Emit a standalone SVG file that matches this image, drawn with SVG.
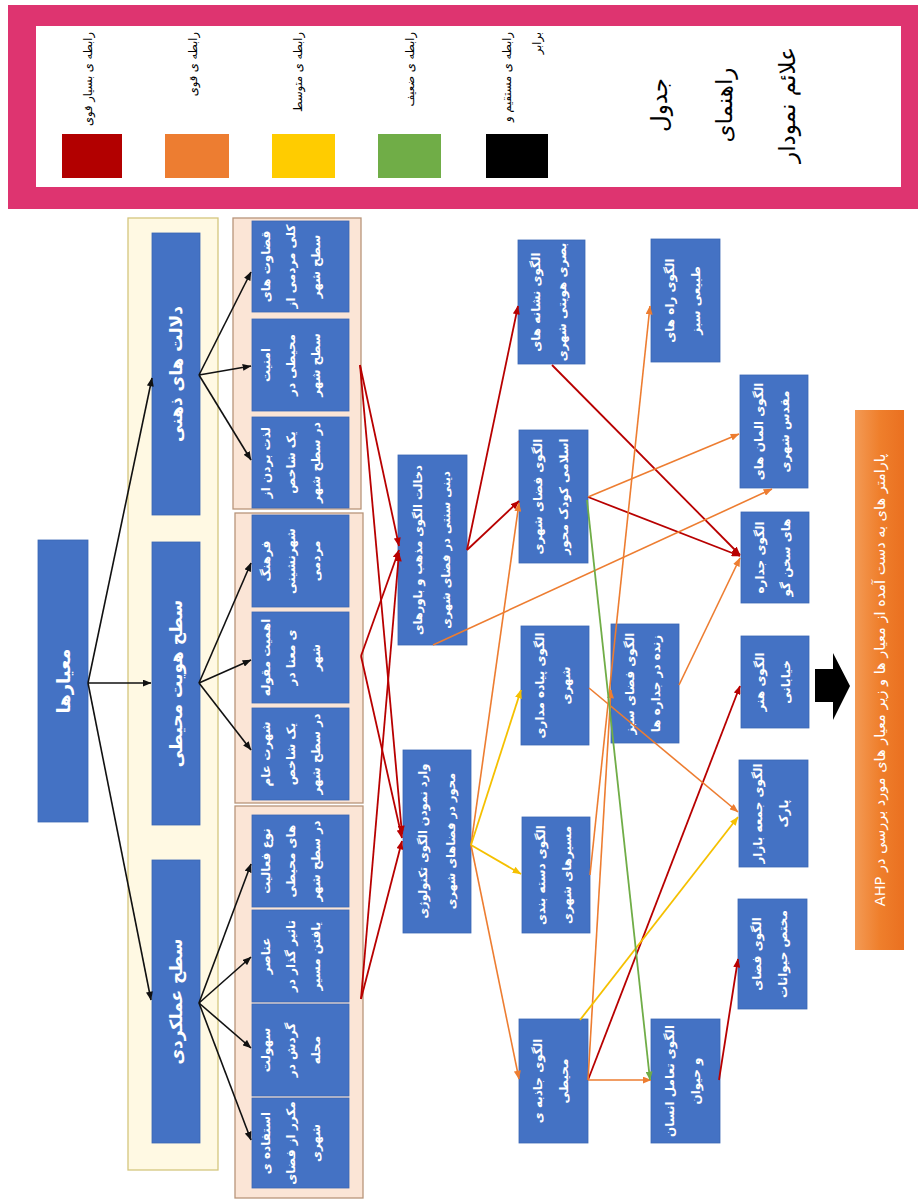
<svg xmlns="http://www.w3.org/2000/svg" width="923" height="1200" viewBox="0 0 923 1200">
<style>
.box{fill:#4472C4;stroke:#3B66B5;stroke-width:0.8}
.panel{fill:#FBE5D6;stroke:#B8957A;stroke-width:1.3}
.cream{fill:#FFF9E3;stroke:#D4C67E;stroke-width:1.3}
.t{font-family:"DejaVu Sans",sans-serif;fill:#fff;font-weight:bold;text-anchor:middle;dominant-baseline:central}
.lg{font-family:"DejaVu Sans",sans-serif;fill:#000;font-size:11.5px;text-anchor:end;dominant-baseline:central}
.ttl{font-family:"DejaVu Sans",sans-serif;fill:#000;font-size:23px;text-anchor:middle;dominant-baseline:central}
.s11{font-size:11.5px}
.s12{font-size:12px}
.s17{font-size:17px}
.s18{font-size:18px}
.bar{font-family:"DejaVu Sans",sans-serif;fill:#fff;font-size:14.5px;text-anchor:middle;dominant-baseline:central;direction:rtl;unicode-bidi:embed}
.ln{fill:none}
.k{stroke:#111;stroke-width:1.6}
.r{stroke:#B80000;stroke-width:1.8}
.o{stroke:#ED7D31;stroke-width:1.6}
.y{stroke:#F5C000;stroke-width:1.8}
.g{stroke:#70AD47;stroke-width:1.8}
</style>
<defs>
<marker id="mk" viewBox="0 0 10 8" refX="9.5" refY="4" markerWidth="9" markerHeight="7" markerUnits="userSpaceOnUse" orient="auto"><path d="M0,0 L10,4 L0,8 z" fill="#111"/></marker>
<marker id="mr" viewBox="0 0 10 8" refX="9.5" refY="4" markerWidth="9" markerHeight="7" markerUnits="userSpaceOnUse" orient="auto"><path d="M0,0 L10,4 L0,8 z" fill="#B80000"/></marker>
<marker id="mo" viewBox="0 0 10 8" refX="9.5" refY="4" markerWidth="9" markerHeight="7" markerUnits="userSpaceOnUse" orient="auto"><path d="M0,0 L10,4 L0,8 z" fill="#ED7D31"/></marker>
<marker id="my" viewBox="0 0 10 8" refX="9.5" refY="4" markerWidth="9" markerHeight="7" markerUnits="userSpaceOnUse" orient="auto"><path d="M0,0 L10,4 L0,8 z" fill="#F5C000"/></marker>
<marker id="mg" viewBox="0 0 10 8" refX="9.5" refY="4" markerWidth="9" markerHeight="7" markerUnits="userSpaceOnUse" orient="auto"><path d="M0,0 L10,4 L0,8 z" fill="#70AD47"/></marker>
<linearGradient id="og" x1="0" y1="0" x2="1" y2="0"><stop offset="0" stop-color="#F39A55"/><stop offset="0.5" stop-color="#EF7F2C"/><stop offset="1" stop-color="#EA7020"/></linearGradient>
</defs>
<rect x="0" y="0" width="923" height="1200" fill="#fff"/>

<g id="legend">
<rect x="8" y="5" width="910" height="204" fill="#DE3470"/>
<rect x="36" y="26" width="865" height="161" fill="#fff"/>
<rect x="62" y="134" width="60" height="44" fill="#B20000"/>
<rect x="165" y="134" width="64" height="44" fill="#ED7D31"/>
<rect x="272" y="134" width="63" height="44" fill="#FFCC00"/>
<rect x="378" y="134" width="63" height="44" fill="#70AD47"/>
<rect x="486" y="134" width="62" height="44" fill="#000"/>
<text class="lg" transform="translate(88,32) rotate(-90)">رابطه ی بسیار قوی</text>
<text class="lg" transform="translate(193,32) rotate(-90)">رابطه ی قوی</text>
<text class="lg" transform="translate(298,32) rotate(-90)">رابطه ی متوسط</text>
<text class="lg" transform="translate(410,32) rotate(-90)">رابطه ی ضعیف</text>
<text class="lg" transform="translate(507,32) rotate(-90)">رابطه ی مستقیم و</text>
<text class="lg" transform="translate(537,32) rotate(-90)">برابر</text>
<text class="ttl" transform="translate(659,105) rotate(-90)">جدول</text>
<text class="ttl" transform="translate(724,105) rotate(-90)">راهنمای</text>
<text class="ttl" transform="translate(787,105) rotate(-90)">علائم نمودار</text>
</g>

<g id="panels">
<rect class="cream" x="128" y="218" width="90" height="952"/>
<rect class="panel" x="233" y="218" width="128" height="291"/>
<rect class="panel" x="235" y="513" width="128" height="290"/>
<rect class="panel" x="235" y="806" width="128" height="392"/>
</g>

<g id="n-criteria"><rect class="box" x="38" y="540" width="50" height="282"/><text class="t s18" transform="translate(63,681) rotate(-90)">معیارها</text></g>

<g id="n-L1"><rect class="box" x="152" y="233" width="48" height="282"/><text class="t s17" transform="translate(176,374) rotate(-90)">دلالت های ذهنی</text></g>
<g id="n-L2"><rect class="box" x="152" y="542" width="48" height="283"/><text class="t s17" transform="translate(176,683.5) rotate(-90)">سطح هویت محیطی</text></g>
<g id="n-L3"><rect class="box" x="152" y="860" width="48" height="283"/><text class="t s17" transform="translate(176,1001.5) rotate(-90)">سطح عملکردی</text></g>

<g id="n-a"><rect class="box" x="252" y="221" width="97" height="91"/>
<text class="t s12" transform="translate(266,266.5) rotate(-90)">قضاوت های</text>
<text class="t s12" transform="translate(291,266.5) rotate(-90)">کلی مردمی از</text>
<text class="t s12" transform="translate(316,266.5) rotate(-90)">سطح شهر</text></g>
<g id="n-b"><rect class="box" x="252" y="319" width="97" height="92"/>
<text class="t s12" transform="translate(266,365) rotate(-90)">امنیت</text>
<text class="t s12" transform="translate(291,365) rotate(-90)">محیطی در</text>
<text class="t s12" transform="translate(316,365) rotate(-90)">سطح شهر</text></g>
<g id="n-c"><rect class="box" x="252" y="417" width="97" height="91"/>
<text class="t s12" transform="translate(266,462.5) rotate(-90)">لذت بردن از</text>
<text class="t s12" transform="translate(291,462.5) rotate(-90)">یک شاخص</text>
<text class="t s12" transform="translate(316,462.5) rotate(-90)">در سطح شهر</text></g>
<g id="n-d"><rect class="box" x="252" y="515" width="97" height="92"/>
<text class="t s12" transform="translate(266,561) rotate(-90)">فرهنگ</text>
<text class="t s12" transform="translate(291,561) rotate(-90)">شهرنشینی</text>
<text class="t s12" transform="translate(316,561) rotate(-90)">مردمی</text></g>
<g id="n-e"><rect class="box" x="252" y="612" width="97" height="91"/>
<text class="t s12" transform="translate(266,657.5) rotate(-90)">اهمیت مقوله</text>
<text class="t s12" transform="translate(291,657.5) rotate(-90)">ی معنا در</text>
<text class="t s12" transform="translate(316,657.5) rotate(-90)">شهر</text></g>
<g id="n-f"><rect class="box" x="252" y="708" width="97" height="92"/>
<text class="t s12" transform="translate(266,754) rotate(-90)">شهرت عام</text>
<text class="t s12" transform="translate(291,754) rotate(-90)">یک شاخص</text>
<text class="t s12" transform="translate(316,754) rotate(-90)">در سطح شهر</text></g>
<g id="n-g"><rect class="box" x="252" y="815" width="97" height="92"/>
<text class="t s12" transform="translate(266,861) rotate(-90)">نوع فعالیت</text>
<text class="t s12" transform="translate(291,861) rotate(-90)">های محیطی</text>
<text class="t s12" transform="translate(316,861) rotate(-90)">در سطح شهر</text></g>
<g id="n-h"><rect class="box" x="252" y="910" width="97" height="92"/>
<text class="t s12" transform="translate(266,956) rotate(-90)">عناصر</text>
<text class="t s12" transform="translate(291,956) rotate(-90)">تاثیر گذار در</text>
<text class="t s12" transform="translate(316,956) rotate(-90)">یافتن مسیر</text></g>
<g id="n-i"><rect class="box" x="252" y="1004" width="97" height="92"/>
<text class="t s12" transform="translate(266,1050) rotate(-90)">سهولت</text>
<text class="t s12" transform="translate(291,1050) rotate(-90)">گردش در</text>
<text class="t s12" transform="translate(316,1050) rotate(-90)">محله</text></g>
<g id="n-j"><rect class="box" x="252" y="1098" width="97" height="90"/>
<text class="t s12" transform="translate(266,1143) rotate(-90)">استفاده ی</text>
<text class="t s12" transform="translate(291,1143) rotate(-90)">مکرر از فضای</text>
<text class="t s12" transform="translate(316,1143) rotate(-90)">شهری</text></g>

<g id="n-m1"><rect class="box" x="398" y="455" width="69" height="190"/>
<text class="t s11" transform="translate(418,550) rotate(-90)">دخالت الگوی مذهب و باورهای</text>
<text class="t s11" transform="translate(446,550) rotate(-90)">دینی سنتی در فضای شهری</text></g>
<g id="n-m2"><rect class="box" x="403" y="750" width="68" height="183"/>
<text class="t s11" transform="translate(423,841) rotate(-90)">وارد نمودن الگوی تکنولوژی</text>
<text class="t s11" transform="translate(451,841) rotate(-90)">محور در فضاهای شهری</text></g>

<g id="n-n1"><rect class="box" x="518" y="240" width="67" height="124"/>
<text class="t s12" transform="translate(536,302) rotate(-90)">الگوی نشانه های</text>
<text class="t s12" transform="translate(562,302) rotate(-90)">بصری هویتی شهری</text></g>
<g id="n-n2"><rect class="box" x="519" y="430" width="69" height="133"/>
<text class="t s12" transform="translate(538,496.5) rotate(-90)">الگوی فضای شهری</text>
<text class="t s12" transform="translate(564,496.5) rotate(-90)">اسلامی کودک محور</text></g>
<g id="n-n3"><rect class="box" x="521" y="626" width="68" height="119"/>
<text class="t s12" transform="translate(540,685.5) rotate(-90)">الگوی پیاده مداری</text>
<text class="t s12" transform="translate(566,685.5) rotate(-90)">شهری</text></g>
<g id="n-n4"><rect class="box" x="522" y="817" width="68" height="116"/>
<text class="t s12" transform="translate(541,875) rotate(-90)">الگوی دسته بندی</text>
<text class="t s12" transform="translate(567,875) rotate(-90)">مسیرهای شهری</text></g>
<g id="n-n5"><rect class="box" x="519" y="1019" width="69" height="124"/>
<text class="t s12" transform="translate(538,1081) rotate(-90)">الگوی جاذبه ی</text>
<text class="t s12" transform="translate(564,1081) rotate(-90)">محیطی</text></g>

<g id="n-r1"><rect class="box" x="651" y="239" width="69" height="123"/>
<text class="t s12" transform="translate(670,300.5) rotate(-90)">الگوی راه های</text>
<text class="t s12" transform="translate(696,300.5) rotate(-90)">طبیعی سبز</text></g>
<g id="n-r2"><rect class="box" x="611" y="624" width="68" height="119"/>
<text class="t s12" transform="translate(630,683.5) rotate(-90)">الگوی فضای سبز</text>
<text class="t s12" transform="translate(656,683.5) rotate(-90)">زنده در جداره ها</text></g>
<g id="n-r3"><rect class="box" x="651" y="1019" width="69" height="124"/>
<text class="t s12" transform="translate(670,1081) rotate(-90)">الگوی تعامل انسان</text>
<text class="t s12" transform="translate(696,1081) rotate(-90)">و حیوان</text></g>

<g id="n-c1"><rect class="box" x="740" y="375" width="68" height="113"/>
<text class="t s12" transform="translate(759,431.5) rotate(-90)">الگوی المان های</text>
<text class="t s12" transform="translate(785,431.5) rotate(-90)">مقدس شهری</text></g>
<g id="n-c2"><rect class="box" x="741" y="512" width="68" height="91"/>
<text class="t s12" transform="translate(760,557.5) rotate(-90)">الگوی جداره</text>
<text class="t s12" transform="translate(786,557.5) rotate(-90)">های سخن گو</text></g>
<g id="n-c3"><rect class="box" x="741" y="636" width="68" height="92"/>
<text class="t s12" transform="translate(760,682) rotate(-90)">الگوی هنر</text>
<text class="t s12" transform="translate(786,682) rotate(-90)">خیابانی</text></g>
<g id="n-c4"><rect class="box" x="739" y="760" width="69" height="107"/>
<text class="t s12" transform="translate(758,813.5) rotate(-90)">الگوی جمعه بازار</text>
<text class="t s12" transform="translate(784,813.5) rotate(-90)">پارک</text></g>
<g id="n-c5"><rect class="box" x="738" y="899" width="69" height="110"/>
<text class="t s12" transform="translate(757,954) rotate(-90)">الگوی فضای</text>
<text class="t s12" transform="translate(783,954) rotate(-90)">مختص حیوانات</text></g>

<g id="n-result">
<path d="M815,669 H833 V653 L850,686 L833,720 V702 H815 Z" fill="#000"/>
<rect x="855" y="410" width="49" height="540" fill="url(#og)"/>
<text class="bar" direction="rtl" transform="translate(880,680) rotate(-90)">پارامتر های به دست آمده از معیار ها و زیر معیار های مورد بررسی در AHP</text>
</g>

<g id="connectors">
<path class="ln k" marker-end="url(#mk)" d="M88,683 L152,378"/>
<path class="ln k" marker-end="url(#mk)" d="M88,683 L151,683"/>
<path class="ln k" marker-end="url(#mk)" d="M88,683 L151,1000"/>
<path class="ln k" marker-end="url(#mk)" d="M199,375 L251,272"/>
<path class="ln k" marker-end="url(#mk)" d="M199,375 L251,366"/>
<path class="ln k" marker-end="url(#mk)" d="M199,375 L251,460"/>
<path class="ln k" marker-end="url(#mk)" d="M199,683 L251,563"/>
<path class="ln k" marker-end="url(#mk)" d="M199,683 L251,660"/>
<path class="ln k" marker-end="url(#mk)" d="M199,683 L251,750"/>
<path class="ln k" marker-end="url(#mk)" d="M199,1003 L251,864"/>
<path class="ln k" marker-end="url(#mk)" d="M199,1003 L251,957"/>
<path class="ln k" marker-end="url(#mk)" d="M199,1003 L251,1048"/>
<path class="ln k" marker-end="url(#mk)" d="M199,1003 L251,1140"/>

<path class="ln r" marker-end="url(#mr)" d="M360,365 L399,546"/>
<path class="ln r" marker-end="url(#mr)" d="M360,365 L402,834"/>
<path class="ln r" marker-end="url(#mr)" d="M361,656 L399,550"/>
<path class="ln r" marker-end="url(#mr)" d="M361,656 L402,838"/>
<path class="ln r" marker-end="url(#mr)" d="M361,999 L399,553"/>
<path class="ln r" marker-end="url(#mr)" d="M361,999 L402,841"/>
<path class="ln r" marker-end="url(#mr)" d="M467,550 L518,306"/>
<path class="ln r" marker-end="url(#mr)" d="M467,550 L519,501"/>
<path class="ln r" marker-end="url(#mr)" d="M552,365 L740,555"/>
<path class="ln r" marker-end="url(#mr)" d="M588,497 L740,556"/>
<path class="ln r" marker-end="url(#mr)" d="M588,1080 L740,686"/>
<path class="ln r" marker-end="url(#mr)" d="M719,1080 L738,959"/>

<path class="ln o" marker-end="url(#mo)" d="M588,497 L739,434"/>
<path class="ln o" marker-end="url(#mo)" d="M433,645 L772,489"/>
<path class="ln o" marker-end="url(#mo)" d="M471,845 L519,503"/>
<path class="ln o" marker-end="url(#mo)" d="M471,845 L519,1079"/>
<path class="ln o" marker-end="url(#mo)" d="M590,875 L650,306"/>
<path class="ln o" marker-end="url(#mo)" d="M588,1080 L611,690"/>
<path class="ln o" marker-end="url(#mo)" d="M679,685 L740,558"/>
<path class="ln o" marker-end="url(#mo)" d="M589,688 L738,812"/>
<path class="ln o" marker-end="url(#mo)" d="M588,1080 L651,1080"/>

<path class="ln y" marker-end="url(#my)" d="M471,845 L521,690"/>
<path class="ln y" marker-end="url(#my)" d="M471,845 L521,874"/>
<path class="ln y" marker-end="url(#my)" d="M580,1020 L738,817"/>

<path class="ln g" marker-end="url(#mg)" d="M587,500 L650,1080"/>
</g>
</svg>
